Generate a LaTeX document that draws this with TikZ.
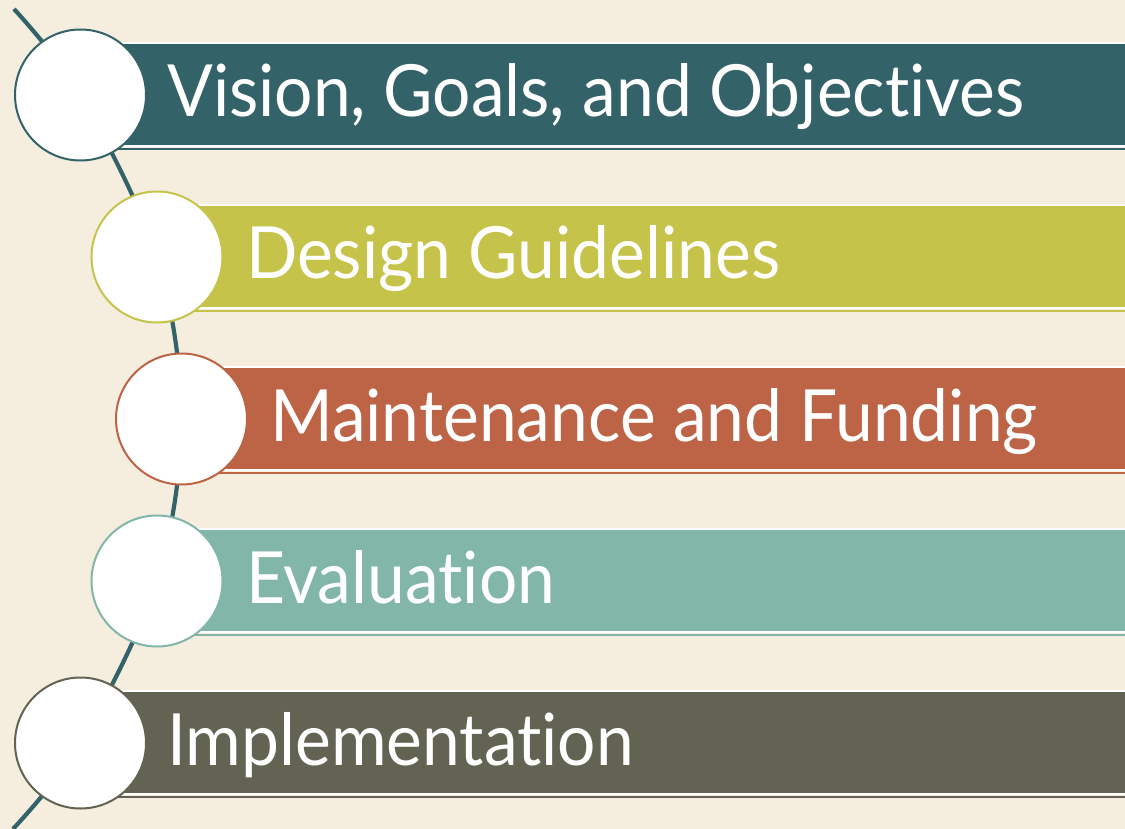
\documentclass[tikz,border=0pt]{standalone}
\usepackage{fontspec}
\setmainfont{Lato}[Ligatures=NoCommon, FakeStretch=0.94]
\definecolor{bgc}{HTML}{F5EEDF}
\definecolor{cA}{HTML}{336268}
\definecolor{cB}{HTML}{C6C34A}
\definecolor{cC}{HTML}{BE6446}
\definecolor{cD}{HTML}{82B6A9}
\definecolor{cE}{HTML}{636354}
\definecolor{arcc}{HTML}{336268}
\tikzset{
  barfill/.style={fill=#1, draw=white, line width=1.2pt},
  barline/.style={draw=#1, line width=1.6pt},
  dot/.style={circle, fill=white, draw=#1, line width=2pt, minimum size=131pt, inner sep=0pt},
  label/.style={anchor=base west, text=white, inner sep=0pt, font=\fontsize{72}{80}\selectfont},
  arcline/.style={draw=arcc, line width=4.2pt}
}
\begin{document}
\begin{tikzpicture}[x=1pt,y=-1pt]
\fill[bgc] (0,0) rectangle (1125,829);
\useasboundingbox (0,0) rectangle (1125,829);
\coordinate (top) at (14,9);
\coordinate (bot) at (13,829);
\coordinate (p1) at (80.5,95);
\coordinate (p2) at (157,257);
\coordinate (p3) at (181.5,419);
\coordinate (p4) at (157,581);
\coordinate (p5) at (80.5,743);
\draw[arcline] plot[smooth, tension=0.55] coordinates {(top) (p1) (p2) (p3) (p4) (p5) (bot)};
% bars
\foreach \i/\c/\x in {0/cA/80.5, 1/cB/157, 2/cC/181.5, 3/cD/157, 4/cE/80.5}{
  \path[barfill=\c] (\x, 43+162*\i) rectangle (1130, 146+162*\i);
  \draw[barline=\c] (\x, 149+162*\i) -- (1130, 149+162*\i);
}
% circles
\node[dot=cA] (d1) at (p1) {};
\node[dot=cB] (d2) at (p2) {};
\node[dot=cC] (d3) at (p3) {};
\node[dot=cD] (d4) at (p4) {};
\node[dot=cE] (d5) at (p5) {};
% labels
\node[label] (t1) at (167,117) {Vision, Goals, and Objectives};
\node[label] (t2) at (246,279) {Design Guidelines};
\node[label] (t3) at (270,441) {Maintenance and Funding};
\node[label] (t4) at (246,603) {Evaluation};
\node[label] (t5) at (167,765) {Implementation};
\end{tikzpicture}
\end{document}
